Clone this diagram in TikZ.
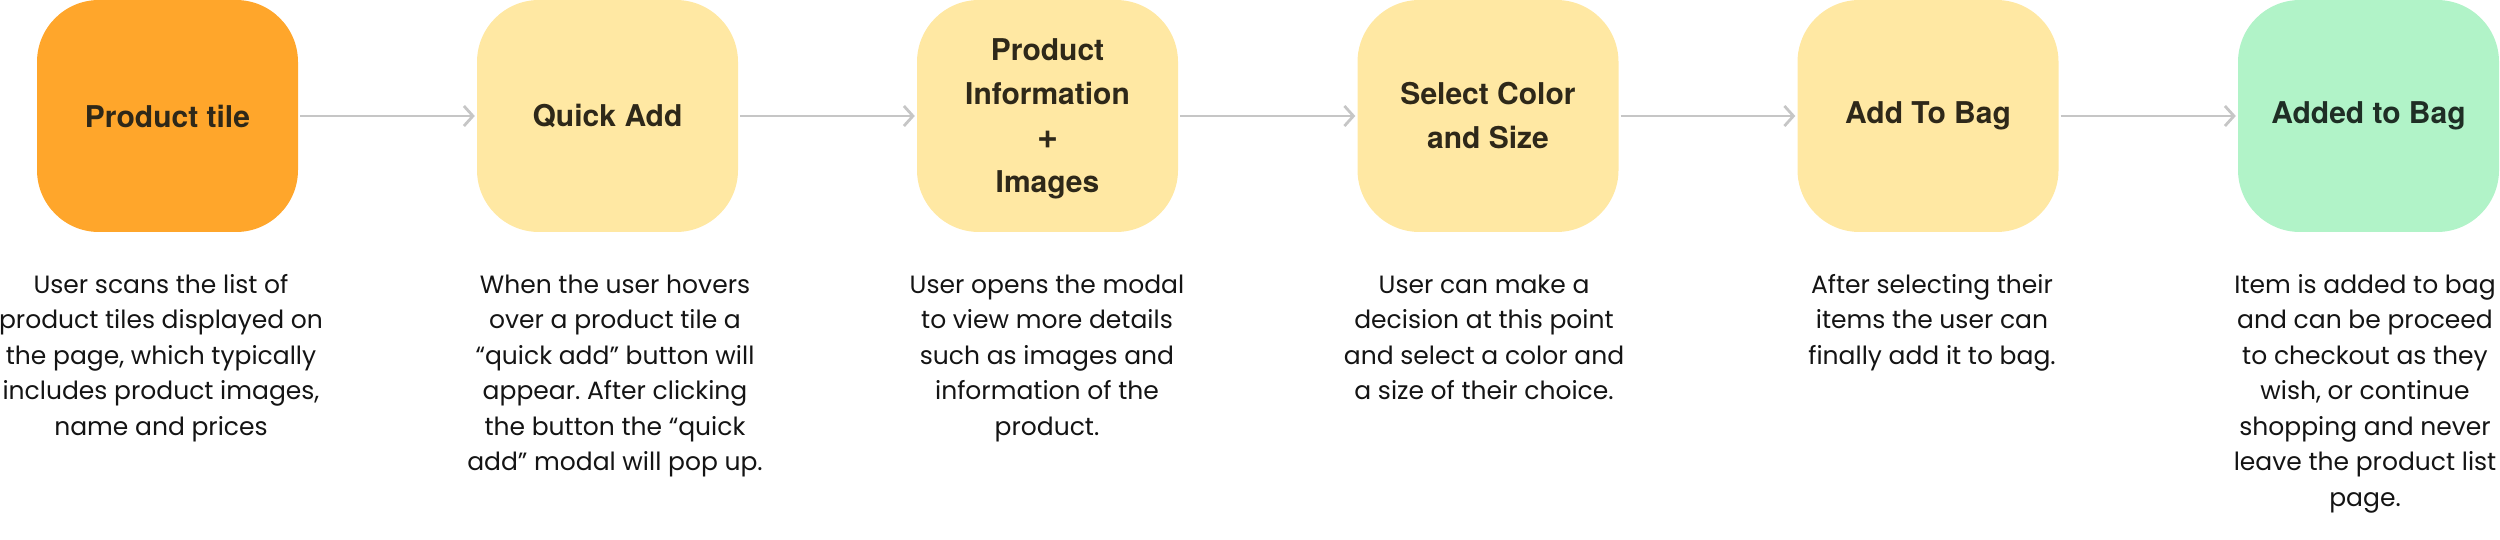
\documentclass[tikz,border=0pt]{standalone}
\usepackage{fontspec}
\setmainfont{Poppins}
\newfontfamily\titlefont{TeX Gyre Heros}[BoldFont={* Bold}]
\usetikzlibrary{arrows.meta}
\frenchspacing
\definecolor{orangebox}{HTML}{FFA62B}
\definecolor{yellowbox}{HTML}{FFE8A3}
\definecolor{greenbox}{HTML}{B1F3C8}
\definecolor{titletext}{HTML}{2E2819}
\definecolor{greentext}{HTML}{1F2E25}
\definecolor{desctext}{HTML}{141414}
\definecolor{arrowgray}{HTML}{C6C6C6}
\tikzset{
  stepbox/.style={rounded corners=62pt, minimum width=261pt, minimum height=232pt,
    inner sep=0pt, align=center, text=titletext,
    font=\titlefont\bfseries\fontsize{30}{44}\selectfont},
  desc/.style={anchor=base, inner sep=0pt, text=desctext,
    font=\fontsize{25}{35.5}\selectfont},
  flow/.style={draw=arrowgray, line width=2.8pt, -{Straight Barb[length=9pt,width=20pt,line width=2.8pt]}}
}
\newcommand{\desctext}[1]{\parbox[t]{340pt}{\frenchspacing\centering #1}}
\newcommand{\bigplus}{{\fontsize{36}{44}\selectfont +}}
\begin{document}
\begin{tikzpicture}[x=1pt,y=-1pt]
\useasboundingbox (0,0) rectangle (2500,540);
% boxes
\node[stepbox, fill=orangebox] (b1) at (167.5,116) {Product tile};
\node[stepbox, fill=yellowbox] (b2) at (607.5,116) {Quick Add};
\node[stepbox, fill=yellowbox, text depth=0pt] (b3) at (1047.5,116) {Product\\Information\\\bigplus\\Images};
\node[stepbox, fill=yellowbox] (b4) at (1488,116) {Select Color\\and Size};
\node[stepbox, fill=yellowbox] (b5) at (1928,116) {Add To Bag};
\node[stepbox, fill=greenbox, text=greentext] (b6) at (2368.5,116) {Added to Bag};
% connectors
\draw[flow] ([xshift=2pt]b1.east) -- ([xshift=-2pt]b2.west);
\draw[flow] ([xshift=2pt]b2.east) -- ([xshift=-2pt]b3.west);
\draw[flow] ([xshift=2pt]b3.east) -- ([xshift=-2pt]b4.west);
\draw[flow] ([xshift=2pt]b4.east) -- ([xshift=-2pt]b5.west);
\draw[flow] ([xshift=2pt]b5.east) -- ([xshift=-2pt]b6.west);
% descriptions
\node[desc] (d1) at (161,293) {\desctext{User scans the list of\\product tiles displayed on\\the page, which typically\\includes product images,\\name and prices}};
\node[desc] (d2) at (615,293) {\desctext{When the user hovers\\over a product tile a\\“quick add” button will\\appear. After clicking\\the button the “quick\\add” modal will pop up.}};
\node[desc] (d3) at (1047,293) {\desctext{User opens the modal\\to view more details\\such as images and\\information of the\\product.}};
\node[desc] (d4) at (1484,293) {\desctext{User can make a\\decision at this point\\and select a color and\\a size of their choice.}};
\node[desc] (d5) at (1932,293) {\desctext{After selecting their\\items the user can\\finally add it to bag.}};
\node[desc] (d6) at (2365,293) {\desctext{Item is added to bag\\and can be proceed\\to checkout as they\\wish, or continue\\shopping and never\\leave the product list\\page.}};
\end{tikzpicture}
\end{document}
